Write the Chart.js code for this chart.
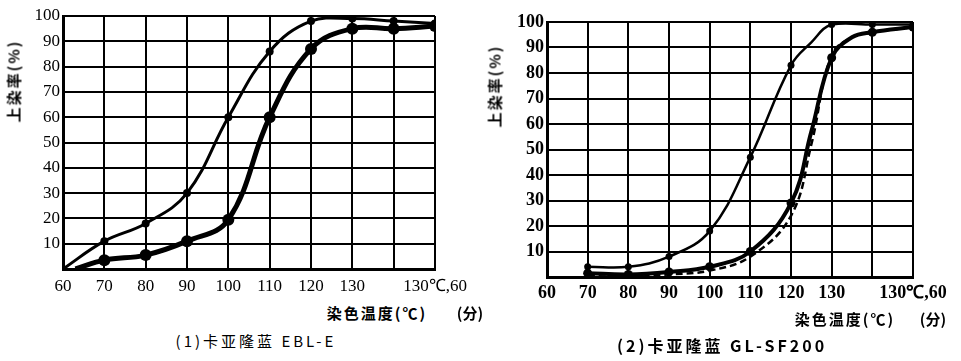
<!DOCTYPE html>
<html>
<head>
<meta charset="utf-8">
<script src="https://cdn.jsdelivr.net/npm/chart.js@4.4.1/dist/chart.umd.min.js"></script>
<style>
  body { margin: 0; background: #fff; }
  #wrap { position: relative; width: 961px; height: 361px; overflow: hidden; }
  canvas { position: absolute; top: 0; }
  .t { position: absolute; white-space: nowrap; color: #000;
       font-family: "Noto Sans CJK SC", "Liberation Serif", serif; font-weight: bold;
       transform: translate(-50%, -50%); }
  .v { transform: translate(-50%, -50%) rotate(-90deg); }
</style>
</head>
<body>
<div id="wrap">
  <canvas id="chart-1" width="500" height="300" style="left:0"></canvas>
  <canvas id="chart-2" width="481" height="310" style="left:480px"></canvas>

  <div class="t v" style="left:13px; top:81px; font-size:15px; letter-spacing:2px;">上染率(%)</div>
  <div class="t" style="left:377px; top:312px; font-size:15px; letter-spacing:2px;">染色温度(℃)</div>
  <div class="t" style="left:470px; top:312px; font-size:15px;">(分)</div>
  <div class="t" style="left:256px; top:340px; font-size:15px; letter-spacing:3px; font-weight:normal;">(1)卡亚隆蓝 EBL-E</div>

  <div class="t v" style="left:494px; top:86px; font-size:15px; letter-spacing:2px;">上染率(%)</div>
  <div class="t" style="left:845px; top:318px; font-size:15px; letter-spacing:2px;">染色温度(℃)</div>
  <div class="t" style="left:933px; top:318px; font-size:15px;">(分)</div>
  <div class="t" style="left:722px; top:345px; font-size:16px; letter-spacing:3px;">(2)卡亚隆蓝 GL-SF200</div>
</div>

<script>
// x axis: 60..130 C, then holding at 130 C (blank slot, then 60 min)
const xLabels = ["60", "70", "80", "90", "100", "110", "120", "130", "", "130℃,60"];

// (1) Kayalon Blue EBL-E
const eblUpperX = [0, 1, 2, 3, 4, 5, 6, 7, 8, 9];
const eblUpper = [0, 11, 18, 30, 60, 86, 98, 99, 98, 97];
const eblLowerX = [0.3, 1, 2, 3, 4, 5, 6, 7, 8, 9];
const eblLower = [0, 3.5, 5.5, 11, 19.5, 60, 87, 95, 95, 96];

// (2) Kayalon Blue GL-SF200
const glThinX = [1, 2, 3, 4, 5, 6, 6.5, 7, 8, 9];
const glThin = [4, 4, 8, 18, 47, 83, 92, 99, 99, 99];
const glBoldX = [1, 2, 3, 4, 5, 6, 6.5, 7, 7.5, 8, 9];
const glBold = [1.5, 1, 2, 4, 10, 29, 57, 86, 94, 96, 98];
const glDash = [0.5, 0, 1, 2.5, 8, 24, 52, 87, 94, 96, 98];

function pts(xs, ys) {
  return xs.map((x, i) => ({ x: x, y: ys[i] }));
}

// markers only on the grid columns
const onGrid = (r) => (c) => (c.raw && Number.isInteger(c.raw.x) && c.raw.y > 0.5 ? r : 0);

function line(xs, ys, width, radius, dash) {
  return {
    data: pts(xs, ys),
    borderColor: "#000",
    backgroundColor: "#000",
    borderWidth: width,
    borderDash: dash || [],
    pointRadius: onGrid(radius),
    pointBorderWidth: 0,
    pointBackgroundColor: "#000",
    tension: 0.4,
    fill: false,
  };
}

function plotOptions(area, font, pad) {
  return {
    responsive: false,
    animation: false,
    layout: {
      padding: { left: 0, top: area.top, right: area.right, bottom: 0 },
    },
    plugins: {
      legend: { display: false },
      tooltip: { enabled: false },
    },
    scales: {
      x: {
        type: "linear",
        min: 0,
        max: 9,
        afterFit: (s) => { s.height = area.xh; },
        border: { color: "#000", width: 3 },
        grid: { color: "#000", lineWidth: 2, drawTicks: false },
        ticks: {
          stepSize: 1,
          autoSkip: false,
          maxRotation: 0,
          padding: pad.x,
          color: "#000",
          font: font,
          callback: (v) => xLabels[v] ?? "",
        },
      },
      y: {
        min: 0,
        max: 100,
        afterFit: (s) => { s.width = area.left; },
        border: { color: "#000", width: 3 },
        grid: { color: "#000", lineWidth: 2, drawTicks: false },
        ticks: {
          stepSize: 10,
          padding: pad.y,
          color: "#000",
          font: font,
          callback: (v) => (v === 0 ? "" : v),
        },
      },
    },
  };
}

new Chart(document.getElementById("chart-1"), {
  type: "line",
  data: {
    datasets: [
      line(eblUpperX, eblUpper, 3, 4),
      line(eblLowerX, eblLower, 5, 6),
    ],
  },
  options: plotOptions(
    { left: 63, top: 16, right: 65, xh: 31 },
    { family: "Liberation Serif", size: 17 },
    { x: 7, y: 3 }
  ),
});

new Chart(document.getElementById("chart-2"), {
  type: "line",
  data: {
    datasets: [
      line(glThinX, glThin, 2.5, 3.5),
      line(glBoldX, glBold, 4, 4.5),
      line(glBoldX, glDash, 2.5, 0, [7, 4]),
    ],
  },
  options: plotOptions(
    { left: 67, top: 22, right: 48, xh: 33 },
    { family: "Liberation Serif", size: 18, weight: "bold" },
    { x: 6, y: 3 }
  ),
});
</script>
</body>
</html>
